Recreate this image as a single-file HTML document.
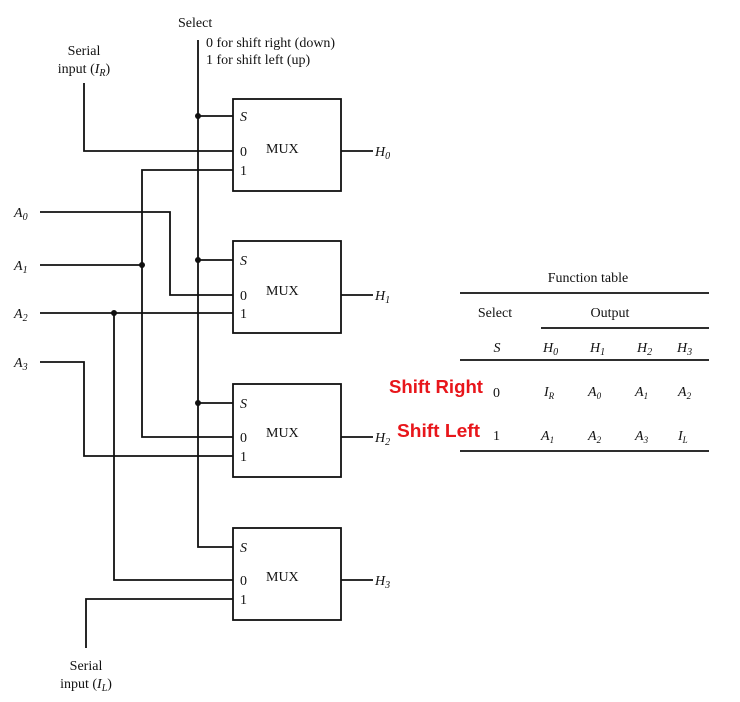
<!DOCTYPE html>
<html><head><meta charset="utf-8"><style>
html,body{margin:0;padding:0;background:#fff;}
svg{display:block;}
text{font-family:"Liberation Serif",serif;fill:#111;font-size:14px;}
.i{font-style:italic;}
.r{font-family:"Liberation Sans",sans-serif;font-weight:bold;fill:#e8161b;font-size:18px;}
</style></head><body>
<svg width="740" height="702" viewBox="0 0 740 702" xmlns="http://www.w3.org/2000/svg">
<g stroke="#111" stroke-width="1.8" fill="none">
<rect x="233" y="99" width="108" height="92"/>
<rect x="233" y="241" width="108" height="92"/>
<rect x="233" y="384" width="108" height="93"/>
<rect x="233" y="528" width="108" height="92"/>
<line x1="341" y1="151" x2="373" y2="151"/>
<line x1="341" y1="295" x2="373" y2="295"/>
<line x1="341" y1="437" x2="373" y2="437"/>
<line x1="341" y1="580" x2="373" y2="580"/>
<polyline points="198,40 198,547 233,547"/>
<line x1="198" y1="116" x2="233" y2="116"/>
<line x1="198" y1="260" x2="233" y2="260"/>
<line x1="198" y1="403" x2="233" y2="403"/>
<polyline points="84,83 84,151 233,151"/>
<polyline points="233,170 142,170 142,437 233,437"/>
<polyline points="40,212 170,212 170,295 233,295"/>
<line x1="40" y1="265" x2="142" y2="265"/>
<line x1="40" y1="313" x2="233" y2="313"/>
<polyline points="114,313 114,580 233,580"/>
<polyline points="40,362 84,362 84,456 233,456"/>
<polyline points="86,648 86,599 233,599"/>
<line x1="460" y1="293" x2="709" y2="293"/>
<line x1="541" y1="328" x2="709" y2="328"/>
<line x1="460" y1="360" x2="709" y2="360"/>
<line x1="460" y1="451" x2="709" y2="451"/>
</g>
<g fill="#111">
<circle cx="198" cy="116" r="3"/><circle cx="198" cy="260" r="3"/><circle cx="198" cy="403" r="3"/>
<circle cx="142" cy="265" r="3"/><circle cx="114" cy="313" r="3"/>
</g>
<text x="178" y="27">Select</text>
<text x="206" y="47">0 for shift right (down)</text>
<text x="206" y="64">1 for shift left (up)</text>
<text x="84" y="55" text-anchor="middle">Serial</text>
<text x="84" y="73" text-anchor="middle">input (<tspan class="i">I</tspan><tspan class="i" font-size="10" dy="3">R</tspan><tspan dy="-3">)</tspan></text>
<text x="86" y="670" text-anchor="middle">Serial</text>
<text x="86" y="688" text-anchor="middle">input (<tspan class="i">I</tspan><tspan class="i" font-size="10" dy="3">L</tspan><tspan dy="-3">)</tspan></text>
<text x="14" y="217" class="i">A<tspan font-size="10" dy="3">0</tspan></text>
<text x="14" y="270" class="i">A<tspan font-size="10" dy="3">1</tspan></text>
<text x="14" y="318" class="i">A<tspan font-size="10" dy="3">2</tspan></text>
<text x="14" y="367" class="i">A<tspan font-size="10" dy="3">3</tspan></text>
<text x="240" y="121" class="i">S</text><text x="240" y="156">0</text><text x="240" y="175">1</text><text x="266" y="153">MUX</text>
<text x="240" y="265" class="i">S</text><text x="240" y="300">0</text><text x="240" y="318">1</text><text x="266" y="295">MUX</text>
<text x="240" y="408" class="i">S</text><text x="240" y="442">0</text><text x="240" y="461">1</text><text x="266" y="437">MUX</text>
<text x="240" y="552" class="i">S</text><text x="240" y="585">0</text><text x="240" y="604">1</text><text x="266" y="581">MUX</text>
<text x="375" y="156" class="i">H<tspan font-size="10" dy="3">0</tspan></text>
<text x="375" y="300" class="i">H<tspan font-size="10" dy="3">1</tspan></text>
<text x="375" y="442" class="i">H<tspan font-size="10" dy="3">2</tspan></text>
<text x="375" y="585" class="i">H<tspan font-size="10" dy="3">3</tspan></text>
<text x="588" y="282" text-anchor="middle">Function table</text>
<text x="495" y="317" text-anchor="middle">Select</text>
<text x="610" y="317" text-anchor="middle">Output</text>
<text x="497" y="352" class="i" text-anchor="middle">S</text>
<text x="543" y="352" class="i">H<tspan font-size="10" dy="3">0</tspan></text>
<text x="590" y="352" class="i">H<tspan font-size="10" dy="3">1</tspan></text>
<text x="637" y="352" class="i">H<tspan font-size="10" dy="3">2</tspan></text>
<text x="677" y="352" class="i">H<tspan font-size="10" dy="3">3</tspan></text>
<text x="493" y="397">0</text>
<text x="544" y="396" class="i" font-size="13">I<tspan font-size="9" dy="3">R</tspan></text>
<text x="588" y="396" class="i" font-size="13">A<tspan font-size="9" dy="3">0</tspan></text>
<text x="635" y="396" class="i" font-size="13">A<tspan font-size="9" dy="3">1</tspan></text>
<text x="678" y="396" class="i" font-size="13">A<tspan font-size="9" dy="3">2</tspan></text>
<text x="493" y="440">1</text>
<text x="541" y="440" class="i" font-size="13">A<tspan font-size="9" dy="3">1</tspan></text>
<text x="588" y="440" class="i" font-size="13">A<tspan font-size="9" dy="3">2</tspan></text>
<text x="635" y="440" class="i" font-size="13">A<tspan font-size="9" dy="3">3</tspan></text>
<text x="678" y="440" class="i" font-size="13">I<tspan font-size="9" dy="3">L</tspan></text>
<text x="389" y="393" class="r" textLength="94" lengthAdjust="spacingAndGlyphs">Shift Right</text>
<text x="397" y="437" class="r" textLength="83" lengthAdjust="spacingAndGlyphs">Shift Left</text>
</svg>
</body></html>
